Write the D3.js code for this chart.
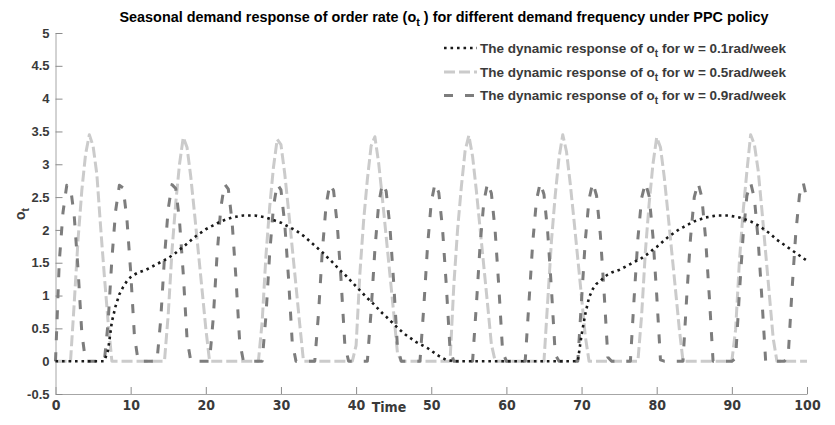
<!DOCTYPE html>
<html><head><meta charset="utf-8">
<script src="https://cdn.jsdelivr.net/npm/d3@7"></script>
<style>
body{margin:0;background:#fff;}
svg{display:block;}
</style></head><body>
<svg id="chart" width="835" height="425"></svg>
<script>
// ---- data ----
const timeStart = 0;      // weeks
const timeStep = 0.5;     // sampling step of the series below
const xTicks = [0, 10, 20, 30, 40, 50, 60, 70, 80, 90, 100];
const yTicks = [-0.5, 0, 0.5, 1, 1.5, 2, 2.5, 3, 3.5, 4, 4.5, 5];
const seriesLabels = [
  ["The dynamic response of o", "t", " for w = 0.1rad/week"],
  ["The dynamic response of o", "t", " for w = 0.5rad/week"],
  ["The dynamic response of o", "t", " for w = 0.9rad/week"]
];

// w = 0.1 rad/week (t = 0 .. 100 step 0.5)
const orderRateW01 = [
  0,0,0,0,0,0,0,0,0,0,0,0,0,0,0.17,0.6,0.84,1.02,1.13,1.22,
  1.28,1.32,1.35,1.37,1.39,1.42,1.45,1.48,1.51,1.54,1.57,1.61,1.65,1.7,1.74,1.79,1.84,1.89,1.93,1.97,
  2.01,2.04,2.07,2.1,2.13,2.15,2.17,2.19,2.2,2.21,2.22,2.22,2.22,2.22,2.21,2.2,2.19,2.17,2.15,2.13,
  2.11,2.08,2.05,2.02,1.99,1.95,1.91,1.86,1.81,1.76,1.71,1.66,1.6,1.55,1.49,1.43,1.37,1.32,1.26,1.2,
  1.14,1.08,1.02,0.96,0.91,0.85,0.79,0.73,0.68,0.62,0.57,0.51,0.46,0.41,0.37,0.33,0.29,0.26,0.23,0.2,
  0.16,0.12,0.08,0.05,0.02,0.01,0,0,0,0,0,0,0,0,0,0,0,0,0,0,
  0,0,0,0,0,0,0,0,0,0,0,0,0,0,0,0,0,0,0,0,
  0.4,0.72,0.97,1.1,1.18,1.22,1.28,1.32,1.35,1.37,1.39,1.42,1.45,1.48,1.51,1.54,1.57,1.61,1.65,1.7,
  1.74,1.79,1.84,1.89,1.93,1.97,2.01,2.04,2.07,2.1,2.13,2.15,2.17,2.19,2.2,2.21,2.22,2.22,2.22,2.22,
  2.21,2.2,2.19,2.17,2.15,2.13,2.1,2.07,2.03,1.99,1.95,1.9,1.85,1.81,1.77,1.73,1.69,1.65,1.61,1.57,
  1.53
];

// w = 0.5 rad/week
const orderRateW05 = [
  0,0,0,0,0,0.9,1.85,2.6,3.15,3.45,3.28,2.85,2.05,1.3,0.6,0,0,0,0,0,
  0,0,0,0,0,0,0,0,0,0,0.71,1.68,2.41,3.0,3.41,3.26,2.81,2.25,1.67,1.09,
  0.5,0,0,0,0,0,0,0,0,0,0,0,0,0,0,0.6,1.6,2.35,2.95,3.38,
  3.3,2.86,2.31,1.73,1.15,0.56,0,0,0,0,0,0,0,0,0,0,0,0,0,0,
  0.24,1.33,2.14,2.77,3.28,3.42,3.02,2.48,1.9,1.32,0.74,0.13,0,0,0,0,0,0,0,0,
  0,0,0,0,0,0,1.15,2.0,2.65,3.2,3.44,3.12,2.6,2.02,1.44,0.86,0.26,0,0,0,
  0,0,0,0,0,0,0,0,0,0,0,0.92,1.84,2.53,3.1,3.45,3.19,2.7,2.14,1.56,
  0.98,0.38,0,0,0,0,0,0,0,0,0,0,0,0,0,0,0.71,1.68,2.41,3.0,
  3.41,3.26,2.81,2.25,1.67,1.09,0.5,0,0,0,0,0,0,0,0,0,0,0,0,0,
  0,0.48,1.51,2.28,2.89,3.45,3.3,2.91,2.3,1.65,1.0,0.35,0,0,0,0,0,0,0,0,
  0
];

// w = 0.9 rad/week
const orderRateW09 = [
  0,1.51,2.27,2.68,2.65,2.2,1.4,0.43,0,0,0,0,0,0,0.59,1.55,2.29,2.68,2.64,2.17,
  1.37,0.39,0,0,0,0,0,0,0.63,1.58,2.32,2.69,2.63,2.14,1.33,0.35,0,0,0,0,
  0,0,0.67,1.62,2.34,2.7,2.62,2.12,1.29,0.31,0,0,0,0,0,0,0.69,1.64,2.35,2.7,
  2.61,2.1,1.28,0.29,0,0,0,0,0,0,0.73,1.67,2.37,2.7,2.6,2.07,1.24,0.25,0,0,
  0,0,0,0,0.77,1.7,2.39,2.71,2.59,2.05,1.2,0.22,0,0,0,0,0,0,0.81,1.74,
  2.42,2.71,2.57,2.02,1.16,0.18,0,0,0,0,0,0,0.85,1.77,2.43,2.72,2.56,1.99,1.12,0.14,
  0,0,0,0,0,0,0.89,1.8,2.45,2.72,2.54,1.96,1.09,0.1,0,0,0,0,0,0,
  0.93,1.84,2.47,2.72,2.52,1.93,1.05,0.06,0,0,0,0,0,0,0.97,1.87,2.49,2.72,2.51,1.9,
  1.01,0.02,0,0,0,0,0,0,0.99,1.88,2.5,2.72,2.5,1.88,0.99,0,0,0,0,0,
  0,0.04,1.03,1.91,2.52,2.72,2.48,1.85,0.95,0,0,0,0,0,0,0.08,1.07,1.94,2.53,2.72,
  2.46
];

// ---- drawing ----
const svg = d3.select("#chart");
const W = 835, H = 425;
svg.append("rect").attr("width", W).attr("height", H).attr("fill", "#fff");

const x = d3.scaleLinear().domain([0, 100]).range([55.5, 807]);
const y = d3.scaleLinear().domain([-0.5, 5]).range([394, 33]);

const labelFont = "'Liberation Sans', Arial, sans-serif";
const narrowFont = "'Liberation Sans Narrow', 'Arial Narrow', 'DejaVu Sans Condensed', 'Liberation Sans', sans-serif";

// axes
const gx = svg.append("g").attr("transform", `translate(0,${y(-0.5)})`)
  .call(d3.axisBottom(x).tickValues(xTicks).tickSize(-7).tickSizeOuter(0).tickPadding(6)
    .tickFormat(d => String(d)));
const gy = svg.append("g").attr("transform", `translate(${x(0)},0)`)
  .call(d3.axisLeft(y).tickValues(yTicks).tickSize(-7).tickSizeOuter(0).tickPadding(6)
    .tickFormat(d => String(d)));
[gx, gy].forEach(g => {
  g.select(".domain").attr("stroke", "#a6a6a6").attr("stroke-width", 1);
  g.selectAll(".tick line").attr("stroke", "#8c8c8c").attr("stroke-width", 1);
  g.selectAll(".tick text").attr("fill", "#3a3a3a").attr("font-weight", "bold");
});
gx.selectAll(".tick text").attr("font-family", narrowFont).attr("font-size", 14);
gy.selectAll(".tick text").attr("font-family", labelFont).attr("font-size", 13);

// series
const line = d3.line()
  .x((d, i) => x(timeStart + i * timeStep))
  .y(d => y(d));

const styles = [
  {data: orderRateW01, color: "#1a1a1a", width: 2.6, dash: "2.6,3.9"},
  {data: orderRateW05, color: "#cbcbcb", width: 3, dash: "11,4"},
  {data: orderRateW09, color: "#7d7d7d", width: 3, dash: "9,12"}
];
const drawOrder = [1, 2, 0];
drawOrder.forEach(k => {
  const s = styles[k];
  svg.append("path").datum(s.data)
    .attr("d", line)
    .attr("fill", "none")
    .attr("stroke", s.color)
    .attr("stroke-width", s.width)
    .attr("stroke-dasharray", s.dash)
    .attr("stroke-linejoin", "round");
});

// title
const title = svg.append("text")
  .attr("x", 444).attr("y", 22)
  .attr("text-anchor", "middle")
  .attr("font-family", labelFont).attr("font-weight", "bold").attr("font-size", 14.4)
  .attr("fill", "#000");
title.append("tspan").text("Seasonal demand response of order rate (o");
title.append("tspan").attr("dy", 4).attr("font-size", 11).text("t");
title.append("tspan").attr("dy", -4).text(" ) for different demand frequency under PPC policy");

// axis labels
svg.append("text").attr("x", 389).attr("y", 412).attr("text-anchor", "middle")
  .attr("font-family", narrowFont).attr("font-weight", "bold").attr("font-size", 14)
  .attr("fill", "#3a3a3a").text("Time");
const yl = svg.append("text").attr("transform", "translate(25,214) rotate(-90)")
  .attr("text-anchor", "middle")
  .attr("font-family", labelFont).attr("font-weight", "bold").attr("font-size", 14)
  .attr("fill", "#3a3a3a");
yl.append("tspan").text("o");
yl.append("tspan").attr("dy", 4).attr("font-size", 10).text("t");

// legend
const legendRowsY = [48, 72, 95.5];
styles.forEach((s, i) => {
  const ly = legendRowsY[i];
  svg.append("line").attr("x1", 444).attr("x2", 477).attr("y1", ly).attr("y2", ly)
    .attr("stroke", s.color).attr("stroke-width", s.width).attr("stroke-dasharray", s.dash);
  const t = svg.append("text").attr("x", 480).attr("y", ly + 4.5)
    .attr("font-family", labelFont).attr("font-weight", "bold").attr("font-size", 13.5)
    .attr("fill", "#3a3a3a");
  t.append("tspan").text(seriesLabels[i][0]);
  t.append("tspan").attr("dy", 4).attr("font-size", 10).text(seriesLabels[i][1]);
  t.append("tspan").attr("dy", -4).text(seriesLabels[i][2]);
});
</script>
</body></html>
